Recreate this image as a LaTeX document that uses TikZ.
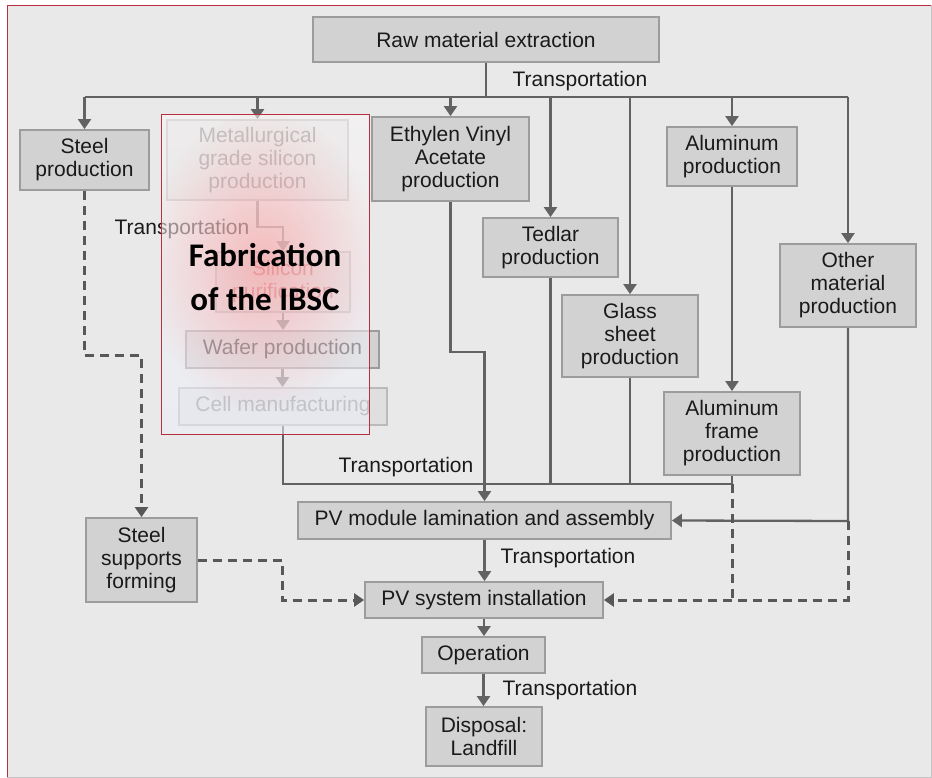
\documentclass[tikz,border=0pt]{standalone}
\usepackage{fontspec}
\setmainfont{Liberation Sans}
\newfontfamily\calib{Carlito}
\usetikzlibrary{arrows.meta,fadings}
\definecolor{bgcol}{HTML}{E9E9E9}
\definecolor{boxfill}{HTML}{D2D2D2}
\definecolor{boxline}{HTML}{9C9C9C}
\definecolor{linecol}{HTML}{626262}
\definecolor{txtcol}{HTML}{1A1A1A}
\definecolor{framered}{HTML}{B8303F}
\definecolor{washtop}{HTML}{FAF6F6}
\definecolor{washbot}{HTML}{ECF0FA}
\tikzfading[name=glowfade, inner color=transparent!0, outer color=transparent!100]
\tikzset{
  box/.style={draw=boxline, fill=boxfill, line width=1.8pt, text=txtcol,
    align=center, inner sep=0pt,
    font=\fontsize{21}{23}\selectfont},
  fadedbox/.style={box, draw=boxline!70, fill=boxfill!70},
  flow/.style={draw=linecol, line width=2.3pt},
  tip/.style={-{Triangle[width=13pt,length=10pt]}},
  dashflow/.style={flow, draw=linecol!90!black, line width=3pt, dash pattern=on 9pt off 6pt},
  lbl/.style={text=txtcol, font=\fontsize{21}{23}\selectfont, inner sep=0pt},
}
\newcommand{\boxat}[6]{% name, x1, y1, x2, y2, style
  \node[#6, minimum width={#4-#2}, minimum height={#5-#3}] (#1) at ({(#2+#4)/2},{(#3+#5)/2})}
\begin{document}
\begin{tikzpicture}[x=1pt,y=-1pt]
\useasboundingbox (0,0) rectangle (932,778);
\fill[white] (0,0) rectangle (932,778);
\fill[bgcol] (7,5) rectangle (931,777);
\draw[boxline!60, line width=0.8pt] (931,5) -- (931,777) -- (7,777);
\draw[framered, line width=0.8pt] (7,777) -- (7,5) -- (931,5);

% ---- boxes ----
\boxat{raw}{313}{17}{659}{62}{box} {Raw material extraction};
\boxat{steel}{20}{130}{149}{190}{box} {Steel\\production};
\boxat{metal}{167}{120}{348}{200}{fadedbox, text=txtcol!55} {Metallurgical\\grade silicon\\production};
\boxat{eva}{372}{117}{529}{201}{box} {Ethylen Vinyl\\Acetate\\production};
\boxat{alu}{667}{127}{797}{186}{box} {Aluminum\\production};
\boxat{tedlar}{483}{218}{618}{277}{box} {Tedlar\\production};
\boxat{glass}{562}{295}{698}{377}{box} {Glass\\sheet\\production};
\boxat{other}{780}{244}{916}{327}{box} {Other\\material\\production};
\boxat{frame}{664}{392}{800}{475}{box} {Aluminum\\frame\\production};
\boxat{silicon}{216}{252}{350}{312}{fadedbox, text=red!50!gray!80} {Silicon\\purification};
\boxat{wafer}{186}{331}{379}{368}{box, text=txtcol!95} {Wafer production};
\boxat{cell}{179}{388}{387}{425}{fadedbox, text=txtcol!50} {Cell manufacturing};
\boxat{module}{298}{502}{671}{539}{box} {PV module lamination and assembly};
\boxat{supports}{86}{518}{197}{602}{box} {Steel\\supports\\forming};
\boxat{system}{365}{582}{603}{618}{box} {PV system installation};
\boxat{operation}{422}{637}{545}{673}{box} {Operation};
\boxat{disposal}{426}{707}{542}{766}{box} {Disposal:\\Landfill};

% ---- distribution bus below raw material extraction ----
\coordinate (busL) at (84.5,97);
\coordinate (busR) at (848,97);
\draw[flow] (raw.south) -- (raw.south |- busL);
\draw[flow] (busL) -- (busR);
\node[lbl] (t1) at (580,81) {Transportation};
\draw[flow, tip] (steel.north |- busL) -- (steel.north);
\draw[flow, tip] (metal.north |- busL) -- (metal.north);
\draw[flow, tip] (eva.north |- busL) -- (eva.north);
\draw[flow, tip] (tedlar.north |- busL) -- (tedlar.north);
\draw[flow, tip] (glass.north |- busL) -- (glass.north);
\draw[flow, tip] (alu.north |- busL) -- (alu.north);
\draw[flow, tip] (busR) -- (other.north);
\draw[flow, tip] (alu.south) -- (frame.north);

% ---- silicon chain ----
\coordinate (m1) at (257.5,227);
\coordinate (m2) at (283,227);
\draw[flow, draw=linecol!70, tip] (metal.south) -- (m1) -- (m2) -- (silicon.north);
\node[lbl] (t2) at (182,229) {Transportation};
\draw[flow, draw=linecol!80, tip] (silicon.south) -- (silicon.south |- wafer.north);
\draw[flow, draw=linecol!85, tip] (wafer.south) -- (wafer.south |- cell.north);

% ---- collection line into module assembly ----
\coordinate (c1) at (283,484);
\coordinate (c2) at (732,484);
\draw[flow] (cell.south) -- (c1) -- (c2);
\draw[flow] (frame.south) -- (c2);
\draw[flow] (tedlar.south) -- (tedlar.south |- c1);
\draw[flow] (glass.south) -- (glass.south |- c1);
\coordinate (e1) at (450.5,352);
\coordinate (e2) at (484.5,352);
\draw[flow, tip] (eva.south) -- (e1) -- (e2) -- (module.north);
\node[lbl] (t3) at (406,467) {Transportation};
\coordinate (o1) at (848,521);
\draw[flow, tip] (other.south) -- (o1) -- (module.east);

% ---- steel branch ----
\coordinate (s1) at (84.5,355);
\coordinate (s2) at (141.5,355);
\draw[dashflow, tip] (steel.south) -- (s1) -- (s2) -- (supports.north);
\coordinate (p1) at (282,560);
\coordinate (p2) at (282,600);
\draw[dashflow, tip] (supports.east) -- (p1) -- (p2) -- (system.west);

% ---- dashed feeds into system installation ----
\coordinate (o2) at (848,600);
\draw[dashflow, tip] (o1) -- (o2) -- (system.east);
\draw[dashflow] (c2) -- (c2 |- o2);

% ---- main chain ----
\draw[flow, tip] (module.south) -- (module.south |- system.north);
\node[lbl] (t4) at (568,558) {Transportation};
\draw[flow, tip] (system.south) -- (system.south |- operation.north);
\draw[flow, tip] (operation.south) -- (operation.south |- disposal.north);
\node[lbl] (t5) at (570,690) {Transportation};

% ---- highlighted fabrication region ----
\shade[top color=washtop, bottom color=washbot, opacity=0.55] (161,115) rectangle (369,434);
\begin{scope}
  \clip (161,115) rectangle (369,434);
  \fill[red!60!white, opacity=0.38, path fading=glowfade]
    (262,262) ellipse (120 and 150);
\end{scope}
\draw[framered, line width=1pt] (161,115) rectangle (369,434);
\node[align=center, text=black, inner sep=0pt,
      font=\calib\bfseries\fontsize{33}{44}\selectfont] (fabtext) at (265,277)
  {Fabrication\\of the IBSC};
\end{tikzpicture}
\end{document}
